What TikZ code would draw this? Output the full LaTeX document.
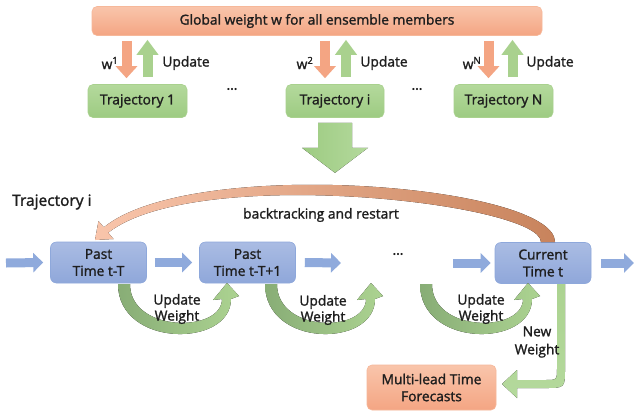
\documentclass[tikz,border=0pt]{standalone}
\usepackage{fontspec}
\setmainfont{Open Sans}[FakeBold=1.5]
\usetikzlibrary{arrows.meta,calc}
\definecolor{orTop}{HTML}{F9C5AB}
\definecolor{orBot}{HTML}{F4A583}
\definecolor{orEdge}{HTML}{F6B89A}
\definecolor{grTop}{HTML}{B4D99C}
\definecolor{grBot}{HTML}{9DCB82}
\definecolor{grEdge}{HTML}{A9D18E}
\definecolor{grDark}{HTML}{88AD76}
\definecolor{grLight}{HTML}{ACD391}
\definecolor{blTop}{HTML}{AABCE3}
\definecolor{blBot}{HTML}{8FA7DA}
\definecolor{blEdge}{HTML}{8EA8DB}
\definecolor{blArr}{HTML}{8FAADC}
\definecolor{orArr}{HTML}{F4A583}
\definecolor{orDark}{HTML}{C8835C}
\definecolor{txt}{HTML}{1E1E1E}
\tikzset{
  obox/.style={draw=orEdge, line width=0.6pt, rounded corners=5pt, top color=orTop, bottom color=orBot, text=txt, align=center, inner sep=0pt},
  gbox/.style={draw=grEdge, line width=0.6pt, rounded corners=5pt, top color=grTop, bottom color=grBot, text=txt, align=center, inner sep=0pt, minimum height=33pt},
  bbox/.style={draw=blEdge, line width=0.6pt, rounded corners=6pt, top color=blTop, bottom color=blBot, text=txt, align=center, inner sep=0pt, minimum width=96pt, minimum height=41pt},
  lbl/.style={text=txt, inner sep=0pt, align=center},
  oarrow/.style={draw=orArr, line width=10pt, -{Triangle[length=12pt,width=21pt]}},
  garrow/.style={draw=grEdge, line width=10pt, -{Triangle[length=15pt,width=21pt]}},
  barrow/.style={draw=blArr, line width=9pt, -{Triangle[length=10pt,width=19pt]}},
}
\newcommand{\gcurve}[2]{%
  \fill[left color=grDark, right color=grLight]
    (#1-6,284) .. controls (#1-6,348) and (#2+5,348) .. (#2+5,299)
    -- (#2+13,296) -- (#2+1,283) -- (#2-13,300) -- (#2-4,299)
    .. controls (#2-4,333) and (#1+6,333) .. (#1+6,284) -- cycle;}
\begin{document}
\begin{tikzpicture}[x=1pt,y=-1pt, font=\fontsize{13.8}{17}\selectfont]
\useasboundingbox[fill=white] (0,0) rectangle (634,418);

% top
\node[obox, minimum width=450pt, minimum height=29pt] (glob) at (317,21) {Global weight w for all ensemble members};
\node[gbox, minimum width=99pt] (t1) at (137.5,101) {Trajectory 1};
\node[gbox, minimum width=98pt] (ti) at (335,101) {Trajectory i};
\node[gbox, minimum width=99pt] (tn) at (503.5,101) {Trajectory N};
\node[lbl] (d1) at (232,89) {…};
\node[lbl] (d2) at (417,89) {…};

% down / up arrows
\draw[oarrow] ($(glob.south -| t1.north)+(-11,5)$) -- ($(t1.north)+(-11,-6)$);
\draw[garrow] ($(t1.north)+(10,-7)$) -- ($(glob.south -| t1.north)+(10,4)$);
\draw[oarrow] ($(glob.south -| ti.north)+(-10,5)$) -- ($(ti.north)+(-10,-6)$);
\draw[garrow] ($(ti.north)+(11,-7)$) -- ($(glob.south -| ti.north)+(11,4)$);
\draw[oarrow] ($(glob.south -| tn.north)+(-15,5)$) -- ($(tn.north)+(-15,-6)$);
\draw[garrow] ($(tn.north)+(9,-7)$) -- ($(glob.south -| tn.north)+(9,4)$);
\node[lbl] (w1) at (110,63) {w\textsuperscript{1}};
\node[lbl] (u1) at (186,63) {Update};
\node[lbl] (w2) at (305,63) {w\textsuperscript{2}};
\node[lbl] (u2) at (384,63) {Update};
\node[lbl] (wn) at (472,63) {w\textsuperscript{N}};
\node[lbl] (un) at (550,63) {Update};

% big down arrow
\fill[left color=grBot, right color=grTop]
  ($(ti.south)+(-17,5)$) -- ($(ti.south)+(17,5)$) -- ($(ti.south)+(17,30)$)
  -- ($(ti.south)+(33,30)$) -- ($(ti.south)+(0,55)$) -- ($(ti.south)+(-33,30)$)
  -- ($(ti.south)+(-17,30)$) -- cycle;

% trajectory i
\node[lbl, anchor=west, font=\fontsize{15.5}{18}\selectfont] (tl) at (12,202) {Trajectory i};
\node[bbox] (b1) at (98.5,262.5) {Past\\Time t-T};
\node[bbox] (b2) at (247.5,262.5) {Past\\Time t-T+1};
\node[bbox] (b3) at (543,263) {Current\\Time t};
\node[lbl] (d3) at (398,254) {…};
\coordinate (lin) at (6,263);
\coordinate (rout) at (634,263);

\draw[barrow] (lin) -- ([xshift=-7]b1.west);
\draw[barrow] ([xshift=8]b1.east) -- ([xshift=-7]b2.west);
\draw[barrow] ([xshift=9]b2.east) -- (341,263);
\draw[barrow] (453,263) -- ([xshift=-4]b3.west);
\draw[barrow] ([xshift=10]b3.east) -- (rout);

% backtracking arrow
\fill[left color=orTop, right color=orDark]
  (555,242) .. controls (555,185) and (193,155) .. (103.8,227.3)
  -- (98.5,221) -- (95,240) -- (113.5,239) -- (108.2,232.7)
  .. controls (196,164) and (541,203) .. (541,242) -- cycle;
\node[lbl] (bt) at (321,215) {backtracking and restart};

% update weight curves
\gcurve{124}{226}
\gcurve{271}{370}
\gcurve{426}{527}
\node[lbl, font=\fontsize{13.8}{16}\selectfont] (uw1) at (177,309) {Update\\Weight};
\node[lbl, font=\fontsize{13.8}{16}\selectfont] (uw2) at (323,310) {Update\\Weight};
\node[lbl, font=\fontsize{13.8}{16}\selectfont] (uw3) at (481,309) {Update\\Weight};

% new weight
\fill[top color=grLight, bottom color=grTop]
  (557,284) -- (565,284) -- (565,368) .. controls (565,388) .. (545,388)
  -- (517,388) -- (517,398) -- (502,384) -- (517,370) -- (517,380) -- (545,380)
  .. controls (557,380) .. (557,368) -- cycle;
\node[lbl, font=\fontsize{13.8}{18}\selectfont] (nw) at (537,342) {New\\Weight};

\node[obox, minimum width=129pt, minimum height=45pt] (fc) at (431.5,387.5) {Multi-lead Time\\Forecasts};
\end{tikzpicture}
\end{document}
